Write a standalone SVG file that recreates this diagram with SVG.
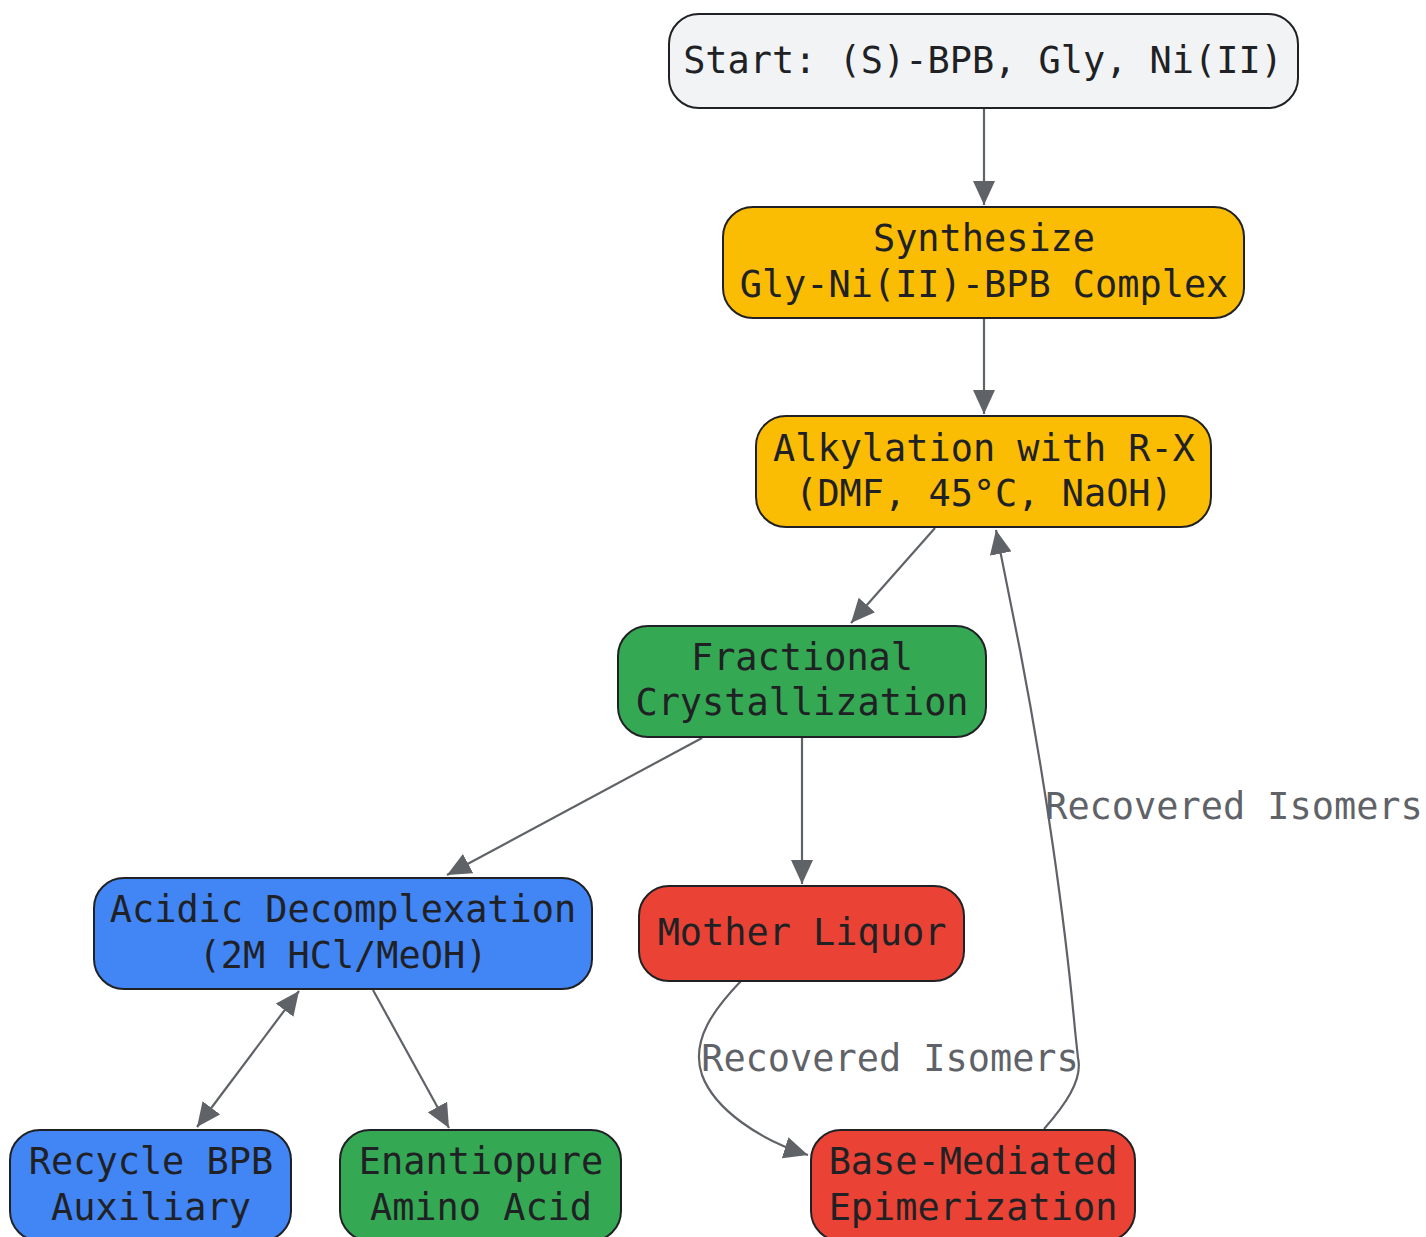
<svg xmlns="http://www.w3.org/2000/svg" width="1426" height="1237" viewBox="0 0 1426 1237">
<style>
.n{stroke:#202124;stroke-width:2}
.t{font-family:"DejaVu Sans Mono",monospace;font-size:36.9px;fill:#202124;text-anchor:middle}
.e{fill:none;stroke:#5f6368;stroke-width:2.2}
.l{font-family:"DejaVu Sans Mono",monospace;font-size:36.9px;fill:#5f6368;text-anchor:middle}
</style>
<defs>
<marker id="ah" viewBox="0 0 24 22" refX="24" refY="11" markerWidth="24" markerHeight="22" markerUnits="userSpaceOnUse" orient="auto-start-reverse">
<path d="M0,0 L24,11 L0,22 z" fill="#5f6368"/>
</marker>
</defs>
<rect width="1426" height="1237" fill="#ffffff"/>
<g id="connectors">
<path class="e" d="M984,109 L984,205" marker-end="url(#ah)"/>
<path class="e" d="M984,319 L984,414" marker-end="url(#ah)"/>
<path class="e" d="M935,528 L851,623" marker-end="url(#ah)"/>
<path class="e" d="M702,738 L447,875" marker-end="url(#ah)"/>
<path class="e" d="M802,738 L802,884" marker-end="url(#ah)"/>
<path class="e" d="M299,991 L197,1127" marker-start="url(#ah)" marker-end="url(#ah)"/>
<path class="e" d="M373,990 L449,1128" marker-end="url(#ah)"/>
<path class="e" d="M741,981 C715,1008 690,1040 702,1075 C715,1110 760,1140 808,1155" marker-end="url(#ah)"/>
<path class="e" d="M1044,1129 C1065,1105 1083,1080 1078,1058 L1075,1030 C1065,920 1045,780 1020,650 L996,530" marker-end="url(#ah)"/>
<text class="l" x="1234" y="819">Recovered Isomers</text>
<text class="l" x="890" y="1071">Recovered Isomers</text>
</g>
<g id="start">
<rect class="n" x="669" y="14" width="629" height="94" rx="30" fill="#f1f3f4"/>
<text class="t" x="983" y="73">Start: (S)-BPB, Gly, Ni(II)</text>
</g>
<g id="synth">
<rect class="n" x="723" y="207" width="521" height="111" rx="30" fill="#fbbc04"/>
<text class="t" x="984" y="251">Synthesize</text>
<text class="t" x="984" y="297">Gly-Ni(II)-BPB Complex</text>
</g>
<g id="alkylation">
<rect class="n" x="756" y="416" width="455" height="111" rx="30" fill="#fbbc04"/>
<text class="t" x="984" y="461">Alkylation with R-X</text>
<text class="t" x="984" y="506">(DMF, 45°C, NaOH)</text>
</g>
<g id="fractional">
<rect class="n" x="618" y="626" width="368" height="111" rx="30" fill="#34a853"/>
<text class="t" x="802" y="670">Fractional</text>
<text class="t" x="802" y="715">Crystallization</text>
</g>
<g id="acidic">
<rect class="n" x="94" y="878" width="498" height="111" rx="30" fill="#4285f4"/>
<text class="t" x="343" y="922">Acidic Decomplexation</text>
<text class="t" x="343" y="968">(2M HCl/MeOH)</text>
</g>
<g id="mother">
<rect class="n" x="639" y="886" width="325" height="95" rx="30" fill="#ea4335"/>
<text class="t" x="802" y="945">Mother Liquor</text>
</g>
<g id="recycle">
<rect class="n" x="10" y="1130" width="281" height="111" rx="30" fill="#4285f4"/>
<text class="t" x="151" y="1174">Recycle BPB</text>
<text class="t" x="151" y="1220">Auxiliary</text>
</g>
<g id="enantiopure">
<rect class="n" x="340" y="1130" width="281" height="111" rx="30" fill="#34a853"/>
<text class="t" x="481" y="1174">Enantiopure</text>
<text class="t" x="481" y="1220">Amino Acid</text>
</g>
<g id="base">
<rect class="n" x="811" y="1130" width="324" height="111" rx="30" fill="#ea4335"/>
<text class="t" x="973" y="1174">Base-Mediated</text>
<text class="t" x="973" y="1220">Epimerization</text>
</g>
</svg>
